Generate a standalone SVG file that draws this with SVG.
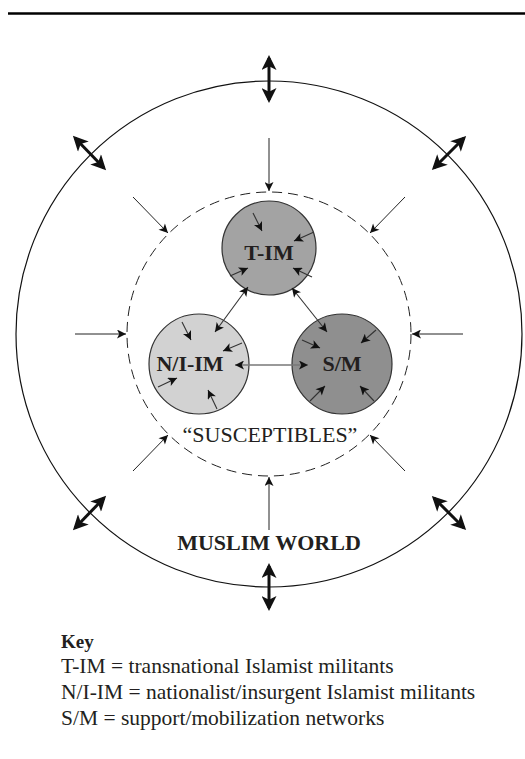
<svg xmlns="http://www.w3.org/2000/svg" width="525" height="759" viewBox="0 0 525 759">
<style>
.lbl{font-family:"Liberation Serif","Times New Roman",Times,serif;fill:#231f20}
.b{font-weight:bold}
.node{stroke:#333;stroke-width:1.2}
.thin{stroke:#222;stroke-width:1;fill:none}
.inner{stroke:#333;stroke-width:1.1;fill:none}
.thick{stroke:#111;stroke-width:3;fill:none}
</style>
<defs>
<marker id="a" viewBox="0 0 10 10" refX="10" refY="5" markerWidth="11" markerHeight="9" markerUnits="userSpaceOnUse" orient="auto-start-reverse"><path d="M0,0 L10,5 L0,10 L2.5,5 z" fill="#111"/></marker>
<marker id="A" viewBox="0 0 10 10" refX="8" refY="5" markerWidth="17" markerHeight="15" markerUnits="userSpaceOnUse" orient="auto-start-reverse"><path d="M0,0 L10,5 L0,10 L2.5,5 z" fill="#111"/></marker>
</defs>
<rect width="525" height="759" fill="#fff"/>
<line x1="8" y1="13.5" x2="525" y2="13.5" stroke="#000" stroke-width="2.5"/>

<g id="muslim-world">
<circle cx="269" cy="334" r="253" fill="none" stroke="#111" stroke-width="1.2"/>
<text class="lbl b" x="269" y="550" font-size="22" text-anchor="middle" font-family="Liberation Serif, serif">MUSLIM WORLD</text>
</g>
<g id="susceptibles">
<circle cx="269" cy="334" r="142" fill="none" stroke="#222" stroke-width="1" stroke-dasharray="10,6"/>
<text class="lbl" x="270" y="442" font-size="22" text-anchor="middle" font-family="Liberation Serif, serif">“SUSCEPTIBLES”</text>
</g>
<g id="t-im">
<circle class="node" cx="269" cy="248" r="47" fill="#a3a3a3"/>
<text class="lbl b" x="269" y="260" font-size="22" text-anchor="middle" font-family="Liberation Serif, serif">T-IM</text>
</g>
<g id="n-i-im">
<circle class="node" cx="199" cy="364" r="50" fill="#d2d2d2"/>
<text class="lbl b" x="190" y="371" font-size="22" text-anchor="middle" font-family="Liberation Serif, serif">N/I-IM</text>
</g>
<g id="s-m">
<circle class="node" cx="342" cy="364" r="50" fill="#8f8f8f"/>
<text class="lbl b" x="342" y="371" font-size="22" text-anchor="middle" font-family="Liberation Serif, serif">S/M</text>
</g>

<g id="connectors">
<line class="inner" x1="248" y1="287" x2="215" y2="332" marker-start="url(#a)" marker-end="url(#a)"/>
<line class="inner" x1="292" y1="288" x2="327" y2="332" marker-start="url(#a)" marker-end="url(#a)"/>
<line x1="235" y1="365" x2="308" y2="365" stroke="#777" stroke-width="1.4" marker-start="url(#a)" marker-end="url(#a)"/>
<line class="inner" x1="253" y1="213" x2="262" y2="231" marker-end="url(#a)"/>
<line class="inner" x1="314" y1="232" x2="294" y2="241" marker-end="url(#a)"/>
<line class="inner" x1="230" y1="276" x2="248" y2="268" marker-end="url(#a)"/>
<line class="inner" x1="312" y1="277" x2="293" y2="268" marker-end="url(#a)"/>
<line class="inner" x1="182" y1="322" x2="191" y2="340" marker-end="url(#a)"/>
<line class="inner" x1="242" y1="343" x2="223" y2="351" marker-end="url(#a)"/>
<line class="inner" x1="158" y1="387" x2="177" y2="378" marker-end="url(#a)"/>
<line class="inner" x1="217" y1="409" x2="208" y2="390" marker-end="url(#a)"/>
<line class="inner" x1="302" y1="340" x2="320" y2="348" marker-end="url(#a)"/>
<line class="inner" x1="376" y1="330" x2="361" y2="343" marker-end="url(#a)"/>
<line class="inner" x1="310" y1="401" x2="325" y2="386" marker-end="url(#a)"/>
<line class="inner" x1="374" y1="401" x2="360" y2="386" marker-end="url(#a)"/>
<line class="thin" x1="269" y1="138" x2="269" y2="191" marker-end="url(#a)"/>
<line class="thin" x1="269" y1="530" x2="269" y2="477" marker-end="url(#a)"/>
<line class="thin" x1="75" y1="334" x2="126" y2="334" marker-end="url(#a)"/>
<line class="thin" x1="463" y1="334" x2="412" y2="334" marker-end="url(#a)"/>
<line class="thin" x1="133" y1="197" x2="168" y2="233" marker-end="url(#a)"/>
<line class="thin" x1="405" y1="197" x2="370" y2="233" marker-end="url(#a)"/>
<line class="thin" x1="133" y1="471" x2="168" y2="435" marker-end="url(#a)"/>
<line class="thin" x1="405" y1="471" x2="370" y2="435" marker-end="url(#a)"/>
<line class="thick" x1="269" y1="58" x2="269" y2="100" marker-start="url(#A)" marker-end="url(#A)"/>
<line class="thick" x1="269" y1="566" x2="269" y2="608" marker-start="url(#A)" marker-end="url(#A)"/>
<line class="thick" x1="75" y1="138" x2="104" y2="168" marker-start="url(#A)" marker-end="url(#A)"/>
<line class="thick" x1="464" y1="138" x2="434" y2="168" marker-start="url(#A)" marker-end="url(#A)"/>
<line class="thick" x1="104" y1="498" x2="75" y2="528" marker-start="url(#A)" marker-end="url(#A)"/>
<line class="thick" x1="434" y1="498" x2="464" y2="528" marker-start="url(#A)" marker-end="url(#A)"/>
</g>

<g id="key" font-family="Liberation Serif, serif">
<text class="lbl b" x="61" y="648" font-size="19">Key</text>
<text class="lbl" x="61" y="673" font-size="21.5">T-IM = transnational Islamist militants</text>
<text class="lbl" x="61" y="699" font-size="21.5">N/I-IM = nationalist/insurgent Islamist militants</text>
<text class="lbl" x="61" y="725" font-size="21.5">S/M = support/mobilization networks</text>
</g>
</svg>
